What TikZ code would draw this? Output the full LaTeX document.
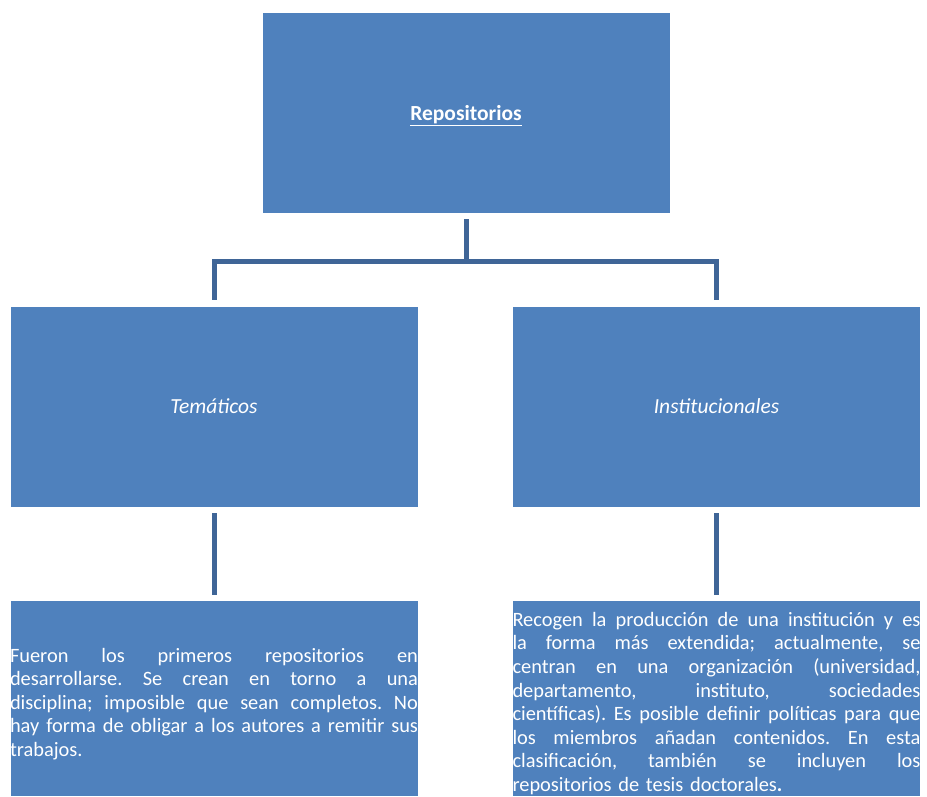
\documentclass[tikz,border=0pt]{standalone}
\usepackage{fontspec}
\setmainfont{Carlito}
\definecolor{boxblue}{HTML}{4F81BD}
\definecolor{connblue}{HTML}{3F6597}
\newcommand{\jline}[1]{\makebox[408pt][s]{\spaceskip=0.226em plus 1fil\relax #1}}
\newcommand{\lline}[1]{\mbox{#1}}
\begin{document}
\begin{tikzpicture}[x=1pt,y=-1pt,
  bluebox/.style={rectangle, fill=boxblue, draw=white, line width=0.6pt, inner sep=0pt, text=white, minimum width=408pt},
  lbl/.style={font=\fontsize{21.5}{26}\selectfont},
  conn/.style={draw=connblue, line width=5pt, line join=miter},
  desc/.style={font=\fontsize{20.4}{23.6}\selectfont\frenchspacing, text width=408pt, inner sep=0pt, text=white}
]
\useasboundingbox[fill=white] (0,0) rectangle (927,796);
\node[bluebox, minimum height=201pt] (top) at (466,112.5) {};
\node[lbl, text=white, inner sep=0pt] (toplbl) at ([yshift=-3.5pt]top.center) {\textbf{\underline{Repositorios}}};
\node[bluebox, minimum height=201pt, lbl] (mleft) at (214,406.5) {\itshape Temáticos};
\node[bluebox, minimum height=201pt, lbl] (mright) at (716.5,406.5) {\itshape Institucionales};
\node[bluebox, minimum height=196pt] (bleft) at (214,698) {};
\node[bluebox, minimum height=196pt] (bright) at (716.5,698) {};
\node[desc] (tleft) at ([yshift=-6pt]bleft.center) {%
\jline{Fueron los primeros repositorios en}\\
\jline{desarrollarse. Se crean en torno a una}\\
\jline{disciplina; imposible que sean completos. No}\\
\jline{hay forma de obligar a los autores a remitir sus}\\
\lline{trabajos.}};
\node[desc] (tright) at ([yshift=-5.5pt]bright.center) {%
\jline{Recogen la producción de una institución y es}\\
\jline{la forma más extendida; actualmente, se}\\
\jline{centran en una organización (universidad,}\\
\jline{departamento, instituto, sociedades}\\
\jline{científicas). Es posible definir políticas para que}\\
\jline{los miembros añadan contenidos. En esta}\\
\jline{clasificación, también se incluyen los}\\
\lline{repositorios de tesis doctorales\textbf{.}}};
\coordinate (jt) at (466,261);
\draw[conn, shorten <=6pt] (top.south) -- (top.south |- jt);
\draw[conn, shorten <=6pt, shorten >=6pt] (mleft.north) -- (mleft.north |- jt) -- (mright.north |- jt) -- (mright.north);
\draw[conn, shorten <=6pt, shorten >=5pt] (mleft.south) -- (bleft.north);
\draw[conn, shorten <=6pt, shorten >=5pt] (mright.south) -- (bright.north);
\end{tikzpicture}
\end{document}
